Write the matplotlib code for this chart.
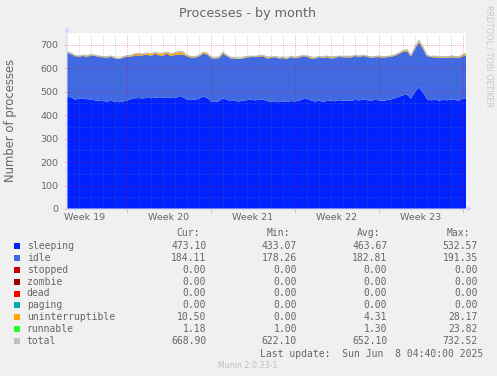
"""Munin 'Processes - by month' graph, redrawn with matplotlib.

Output:
  out.png — 497x376 px
"""
import matplotlib
matplotlib.use("Agg")
import matplotlib.pyplot as plt
import numpy as np

W, H = 497, 376

# ---------- data (one sample every 8 hours, 101 samples) ----------
sleeping = [478, 476, 466, 470, 472, 468, 467, 463, 461, 460,
            458, 461, 457, 455, 458, 462, 468, 472, 473, 471,
            474, 472, 475, 473, 474, 476, 472, 474, 478, 476,
            466, 464, 466, 470, 479, 474, 458, 456, 460, 471,
            466, 460, 461, 458, 462, 464, 466, 463, 465, 467,
            460, 457, 459, 455, 458, 456, 460, 458, 462, 468,
            470, 462, 458, 461, 457, 460, 462, 459, 464, 461,
            463, 460, 465, 463, 466, 464, 462, 465, 463, 461,
            464, 467, 472, 478, 485, 488, 470, 500, 518, 495,
            468, 463, 466, 462, 465, 463, 467, 464, 462, 470,
            473]
idle = [188, 184, 185, 179, 180, 180, 187, 190, 187, 186,
        187, 187, 185, 184, 186, 187, 181, 183, 181, 184,
        184, 180, 186, 182, 179, 186, 179, 184, 179, 183,
        184, 181, 179, 180, 182, 185, 185, 185, 183, 190,
        185, 182, 180, 181, 180, 181, 182, 184, 183, 184,
        181, 187, 188, 186, 185, 183, 187, 184, 183, 183,
        179, 179, 183, 186, 187, 187, 179, 185, 185, 185,
        183, 186, 187, 184, 186, 185, 182, 182, 184, 183,
        183, 181, 181, 183, 184, 184, 181, 183, 191, 187,
        183, 184, 180, 182, 180, 181, 179, 182, 181, 181,
        184]
stopped = [0] * 101
zombie = [0] * 101
dead = [0] * 101
paging = [0] * 101
uninterruptible = [3, 4, 3, 2, 3, 4, 3, 2, 3, 3,
                   2, 3, 2, 2, 3, 4, 5, 6, 7, 5,
                   6, 8, 6, 7, 9, 6, 10, 7, 12, 9,
                   5, 4, 3, 4, 6, 5, 4, 3, 4, 6,
                   3, 2, 3, 2, 3, 4, 3, 2, 5, 3,
                   6, 3, 2, 3, 4, 3, 2, 3, 4, 3,
                   2, 5, 3, 2, 3, 4, 6, 3, 2, 3,
                   5, 3, 2, 4, 3, 2, 3, 2, 4, 3,
                   2, 3, 4, 3, 5, 6, 3, 5, 7, 6,
                   3, 2, 5, 3, 4, 3, 5, 3, 4, 6,
                   8]
runnable = [1, 1, 1, 1, 1, 2, 1, 1, 1, 1,
            1, 1, 1, 1, 1, 1, 1, 1, 2, 1,
            1, 1, 1, 1, 2, 1, 1, 1, 2, 1,
            1, 1, 1, 1, 1, 1, 1, 1, 1, 1,
            1, 1, 1, 2, 1, 1, 1, 1, 1, 1,
            1, 1, 1, 1, 1, 1, 2, 1, 1, 1,
            1, 1, 1, 1, 1, 1, 1, 2, 1, 1,
            1, 1, 1, 1, 1, 1, 1, 1, 1, 2,
            1, 1, 1, 1, 1, 2, 1, 2, 3, 2,
            1, 1, 1, 1, 1, 1, 1, 1, 1, 1,
            1]

series_names = ["sleeping", "idle", "stopped", "zombie", "dead", "paging",
                "uninterruptible", "runnable", "total"]
series_colors = ["#0022FF", "#4169E1", "#CC0000", "#990000", "#FF0000",
                 "#00AAAA", "#FFA500", "#22FF22", "#C0C0C0"]

week_labels = ["Week 19", "Week 20", "Week 21", "Week 22", "Week 23"]
week_starts = [5, 12, 19, 26, 33]          # day offsets of the red week lines

cur_vals = ["473.10", "184.11", "0.00", "0.00", "0.00", "0.00", "10.50", "1.18", "668.90"]
min_vals = ["433.07", "178.26", "0.00", "0.00", "0.00", "0.00", "0.00", "1.00", "622.10"]
avg_vals = ["463.67", "182.81", "0.00", "0.00", "0.00", "0.00", "4.31", "1.30", "652.10"]
max_vals = ["532.57", "191.35", "0.00", "0.00", "0.00", "0.00", "28.17", "23.82", "732.52"]

FONT = "#666666"
AXIS = "#CFD6F8"
MINOR = (0.5, 0.5, 0.5, 0.3)
MAJOR = (1.0, 0.0, 0.0, 0.28)
MONO = "DejaVu Sans Mono"


def px(x, y):
    """pixel position -> figure fraction"""
    return x / W, 1 - y / H


def main():
    fig = plt.figure(figsize=(W / 100, H / 100), dpi=100, facecolor="#F0F0F0")
    ax = fig.add_axes([67 / W, (H - 209) / H, 399 / W, 176 / H])
    ax.set_facecolor("white")

    days = np.arange(len(sleeping)) / 3
    stack = [sleeping, idle, stopped, zombie, dead, paging, uninterruptible, runnable]
    ax.stackplot(days, *stack, colors=series_colors[:8], linewidth=0, zorder=1)
    total = np.sum(np.array(stack, dtype=float), axis=0)
    ax.plot(days, total, color=series_colors[8], lw=0.8, zorder=2)

    ax.set_xlim(0, 33.25)
    ax.set_ylim(0, 750)

    # grid drawn over the data, rrdtool style: 1px dots, no antialiasing
    grid = dict(lw=0.72, ls=(0, (1, 1.5)), zorder=3, antialiased=False)
    for d in range(1, 34):
        if d not in week_starts:
            ax.axvline(d, color=MINOR, **grid)
    for d in week_starts:
        ax.axvline(d, color=MAJOR, **grid)
    for v in range(50, 750, 100):
        ax.axhline(v, color=MINOR, **grid)
    for v in range(100, 750, 100):
        ax.axhline(v, color=MAJOR, **grid)

    for s in ax.spines.values():
        s.set_visible(False)
    arrow = dict(arrowstyle="-|>", color=AXIS, lw=0.8, mutation_scale=6,
                 shrinkA=0, shrinkB=0)
    ax.annotate("", xy=(0, 1.035), xytext=(0, 0), xycoords="axes fraction",
                arrowprops=arrow, annotation_clip=False)
    ax.annotate("", xy=(1.015, 0), xytext=(0, 0), xycoords="axes fraction",
                arrowprops=arrow, annotation_clip=False)

    ax.set_yticks(range(0, 800, 100))
    ax.tick_params(axis="y", length=2, width=0.7, color=MAJOR, pad=4,
                   labelsize=6.8, labelcolor=FONT)
    ax.set_xticks(week_starts)
    ax.set_xticklabels([])
    ax.tick_params(axis="x", which="major", length=2, width=0.7, color=MAJOR)
    ax.set_xticks([d - 3.5 for d in week_starts], week_labels, minor=True)
    ax.tick_params(axis="x", which="minor", length=0, pad=3,
                   labelsize=6.8, labelcolor=FONT)

    fig.text(*px(248, 14), "Processes - by month", ha="center", va="center",
             fontsize=9.2, color=FONT)
    fig.text(*px(11, 120), "Number of processes", ha="center", va="center",
             rotation=90, fontsize=8.4, color=FONT)
    fig.text(*px(489, 56), "RRDTOOL / TOBI OETIKER", ha="center", va="center",
             rotation=270, fontsize=5.8, color="#C8C8C8")

    # ---------- legend table ----------
    cols = [(206.3, cur_vals, 199.5, "Cur:"), (297, min_vals, 290, "Min:"),
            (387.3, avg_vals, 380.5, "Avg:"), (477.7, max_vals, 470, "Max:")]
    for _, _, hx, head in cols:
        fig.text(*px(hx, 233.5), head, ha="right", va="center",
                 family=MONO, fontsize=7, color=FONT)
    for i, name in enumerate(series_names):
        y = 245.7 + i * 11.95
        fig.patches.append(plt.Rectangle(px(14, y + 3), 6 / W, 6 / H,
                                         transform=fig.transFigure,
                                         color=series_colors[i], lw=0))
        fig.text(*px(26.7, y), name, ha="left", va="center",
                 family=MONO, fontsize=7, color=FONT)
        for vx, vals, _, _ in cols:
            fig.text(*px(vx, y), vals[i], ha="right", va="center",
                     family=MONO, fontsize=7, color=FONT)

    fig.text(*px(483, 353.7), "Last update:  Sun Jun  8 04:40:00 2025",
             ha="right", va="center", family=MONO, fontsize=7, color=FONT)
    fig.text(*px(248, 365.3), "Munin 2.0.33-1", ha="center", va="center",
             fontsize=5.7, color="#C0C0C0")

    fig.savefig("out.png", dpi=100, facecolor=fig.get_facecolor())
    plt.close(fig)


if __name__ == "__main__":
    main()
